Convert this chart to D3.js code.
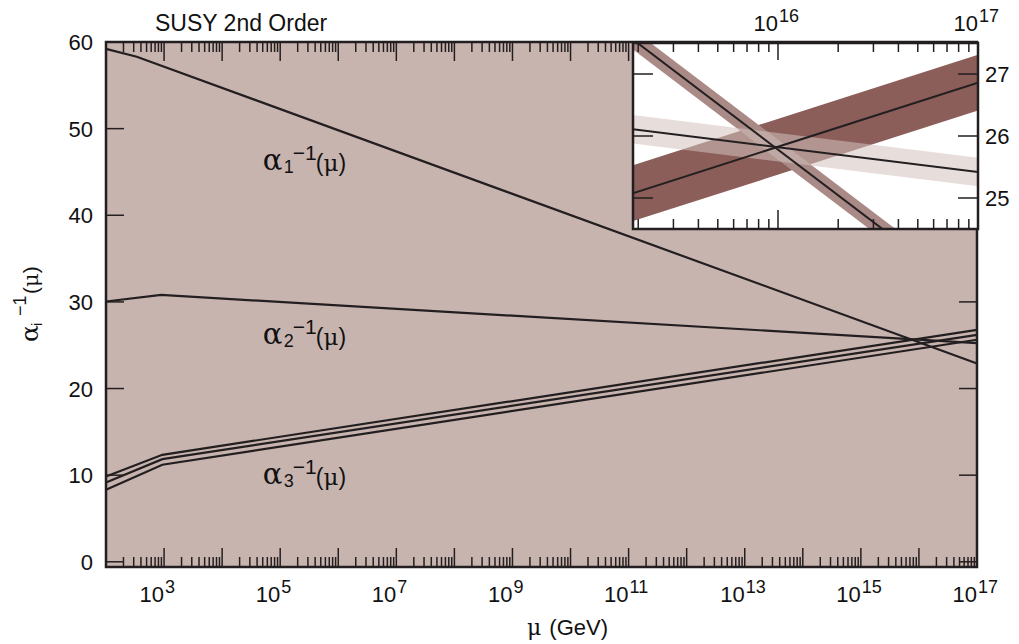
<!DOCTYPE html>
<html>
<head>
<meta charset="utf-8">
<script src="https://cdnjs.cloudflare.com/ajax/libs/d3/7.8.5/d3.min.js"></script>
<style>
  body { margin: 0; background: #fff; }
  text { font-family: "Liberation Sans", Arial, sans-serif; fill: #111; }
  .greek { font-family: "DejaVu Serif", "Liberation Serif", serif; }
</style>
</head>
<body>
<script>
// main panel, points are [log10(mu / GeV), alpha^-1]
var alpha1Main = [[2, 59.2], [2.53, 58.3], [17, 22.9]];
var alpha2Main = [[2, 30.05], [2.95, 30.8], [17, 25.25]];
var alpha3Upper = [[2, 9.85], [2.97, 12.35], [17, 26.78]];
var alpha3Central = [[2, 9.15], [2.97, 11.85], [17, 26.2]];
var alpha3Lower = [[2, 8.31], [2.97, 11.2], [17, 25.63]];
var yTicks = [0, 10, 20, 30, 40, 50, 60];
var xLabelExps = [3, 5, 7, 9, 11, 13, 15, 17];
// label anchors [log10 mu, alpha^-1, subscript]
var curveLabels = [[4.7, 45.25, "1"], [4.7, 25.16, "2"], [4.7, 9.0, "3"]];

// inset, central line and half width of the band
var inset1 = [[15.2, 27.74], [17, 23.33]];
var inset2 = [[15.2, 26.14], [17, 25.42]];
var inset3 = [[15.2, 25.0], [17, 26.86]];
var halfWidths = [0.16, 0.23, 0.45];
var insetYTicks = [25, 26, 27];
var insetXLabelExps = [16, 17];

var W = 1019, H = 644;
var svg = d3.select("body").append("svg").attr("width", W).attr("height", H);

var x = d3.scaleLog().domain([1e2, 1e17]).range([106, 977]);
var y = d3.scaleLinear().domain([-0.6, 60]).range([567, 42]);

var ink = "#231f20";

// plot area
svg.append("rect")
  .attr("x", x.range()[0]).attr("y", y.range()[1])
  .attr("width", x.range()[1] - x.range()[0])
  .attr("height", y.range()[0] - y.range()[1])
  .attr("fill", "#c8b4af");

var line = d3.line()
  .x(function (d) { return x(Math.pow(10, d[0])); })
  .y(function (d) { return y(d[1]); });

[alpha1Main, alpha2Main, alpha3Upper, alpha3Central, alpha3Lower].forEach(function (s) {
  svg.append("path").attr("d", line(s))
    .attr("fill", "none").attr("stroke", ink).attr("stroke-width", 2.2);
});

// log ticks
function logTicks(lo, hi) {
  var t = [];
  for (var e = lo; e < hi; e++) {
    for (var m = 1; m < 10; m++) t.push({ v: m * Math.pow(10, e), major: m == 1 });
  }
  t.push({ v: Math.pow(10, hi), major: true });
  return t;
}
var mt = logTicks(2, 17);
var y0 = y.range()[0], y1 = y.range()[1];
mt.forEach(function (t) {
  var len = t.major ? 19 : 10;
  svg.append("line").attr("x1", x(t.v)).attr("x2", x(t.v))
    .attr("y1", y0).attr("y2", y0 - len).attr("stroke", ink).attr("stroke-width", 1.5);
  svg.append("line").attr("x1", x(t.v)).attr("x2", x(t.v))
    .attr("y1", y1).attr("y2", y1 + len).attr("stroke", ink).attr("stroke-width", 1.5);
});
yTicks.forEach(function (v) {
  svg.append("line").attr("x1", x.range()[0]).attr("x2", x.range()[0] + 18)
    .attr("y1", y(v)).attr("y2", y(v)).attr("stroke", ink).attr("stroke-width", 1.5);
  svg.append("line").attr("x1", x.range()[1]).attr("x2", x.range()[1] - 18)
    .attr("y1", y(v)).attr("y2", y(v)).attr("stroke", ink).attr("stroke-width", 1.5);
  svg.append("text").attr("x", 93).attr("y", y(v) + 8)
    .attr("text-anchor", "end").style("font-size", "22px").text(v);
});
xLabelExps.forEach(function (e) {
  var px = x(Math.pow(10, e));
  var t = svg.append("text").attr("y", 602).style("font-size", "22px");
  t.append("tspan").attr("x", px - 24.5).text("10");
  t.append("tspan").attr("x", px + 1).attr("dy", -9).style("font-size", "18px").text(e);
});

svg.append("rect")
  .attr("x", x.range()[0]).attr("y", y.range()[1])
  .attr("width", x.range()[1] - x.range()[0])
  .attr("height", y.range()[0] - y.range()[1])
  .attr("fill", "none").attr("stroke", ink).attr("stroke-width", 2.5);

// curve labels alpha_i^-1(mu)
curveLabels.forEach(function (c) {
  var lx = x(Math.pow(10, c[0])), ly = y(c[1]);
  var t = svg.append("text").attr("y", ly).style("font-size", "23px");
  t.append("tspan").attr("class", "greek").attr("x", lx).style("font-size", "29px").text("α");
  t.append("tspan").attr("x", lx + 21).attr("dy", 3).style("font-size", "18px").text(c[2]);
  t.append("tspan").attr("x", lx + 30).attr("dy", -13).style("font-size", "21px").text("−1");
  t.append("tspan").attr("x", lx + 53).attr("dy", 11).text("(");
  t.append("tspan").attr("class", "greek").text("μ");
  t.append("tspan").text(")");
});

// titles
svg.append("text").attr("x", 155).attr("y", 31).style("font-size", "23px").text("SUSY 2nd Order");

var xt = svg.append("text").attr("x", 527).attr("y", 635).style("font-size", "22px");
xt.append("tspan").attr("class", "greek").text("μ");
xt.append("tspan").attr("dx", 8).text("(GeV)");

var yt = svg.append("text").attr("transform", "translate(38,342) rotate(-90)").style("font-size", "21px");
yt.append("tspan").attr("class", "greek").attr("x", 0).style("font-size", "25px").text("α");
yt.append("tspan").attr("x", 16).attr("dy", 4).style("font-size", "15px").text("i");
yt.append("tspan").attr("x", 26).attr("dy", -16).style("font-size", "18px").text("−1");
yt.append("tspan").attr("x", 48).attr("dy", 12).text("(");
yt.append("tspan").attr("class", "greek").text("μ");
yt.append("tspan").text(")");

// inset
var xi = d3.scaleLog().domain([Math.pow(10, 15.275), 1e17]).range([633, 978]);
var yi = d3.scaleLinear().domain([24.5, 27.5]).range([229, 43]);
var ix0 = xi.range()[0], ix1 = xi.range()[1], iy0 = yi.range()[0], iy1 = yi.range()[1];

svg.append("clipPath").attr("id", "insetClip").append("rect")
  .attr("x", ix0).attr("y", iy1).attr("width", ix1 - ix0).attr("height", iy0 - iy1);

svg.append("rect").attr("x", ix0).attr("y", iy1)
  .attr("width", ix1 - ix0).attr("height", iy0 - iy1).attr("fill", "#fff");

var ig = svg.append("g").attr("clip-path", "url(#insetClip)");

function band(h) {
  return d3.area()
    .x(function (d) { return xi(Math.pow(10, d[0])); })
    .y0(function (d) { return yi(d[1] - h); })
    .y1(function (d) { return yi(d[1] + h); });
}
var iline = d3.line()
  .x(function (d) { return xi(Math.pow(10, d[0])); })
  .y(function (d) { return yi(d[1]); });

ig.append("path").attr("d", band(halfWidths[2])(inset3)).attr("fill", "#8b5e5a");
ig.append("path").attr("d", band(halfWidths[0])(inset1)).attr("fill", "#a98a86");
ig.append("path").attr("d", band(halfWidths[1])(inset2)).attr("fill", "#d4c2be").attr("fill-opacity", 0.55);

[inset1, inset2, inset3].forEach(function (s) {
  ig.append("path").attr("d", iline(s)).attr("fill", "none")
    .attr("stroke", ink).attr("stroke-width", 2);
});

var it = logTicks(15, 17).filter(function (t) { return t.v >= xi.domain()[0]; });
it.forEach(function (t) {
  svg.append("line").attr("x1", xi(t.v)).attr("x2", xi(t.v))
    .attr("y1", iy0).attr("y2", iy0 - (t.major ? 19 : 10)).attr("stroke", ink).attr("stroke-width", 1.5);
  svg.append("line").attr("x1", xi(t.v)).attr("x2", xi(t.v))
    .attr("y1", iy1).attr("y2", iy1 + (t.major ? 17 : 9)).attr("stroke", ink).attr("stroke-width", 1.5);
});
insetYTicks.forEach(function (v) {
  svg.append("line").attr("x1", ix0).attr("x2", ix0 + 20)
    .attr("y1", yi(v)).attr("y2", yi(v)).attr("stroke", ink).attr("stroke-width", 1.5);
  svg.append("line").attr("x1", ix1).attr("x2", ix1 - 20)
    .attr("y1", yi(v)).attr("y2", yi(v)).attr("stroke", ink).attr("stroke-width", 1.5);
  svg.append("text").attr("x", 985).attr("y", yi(v) + 8)
    .style("font-size", "22px").text(v);
});
insetXLabelExps.forEach(function (e) {
  var px = xi(Math.pow(10, e));
  var t = svg.append("text").attr("y", 31).style("font-size", "22px");
  t.append("tspan").attr("x", px - 24.5).text("10");
  t.append("tspan").attr("x", px + 1).attr("dy", -9).style("font-size", "18px").text(e);
});

svg.append("rect").attr("x", ix0).attr("y", iy1)
  .attr("width", ix1 - ix0).attr("height", iy0 - iy1)
  .attr("fill", "none").attr("stroke", ink).attr("stroke-width", 2.5);
</script>
</body>
</html>
